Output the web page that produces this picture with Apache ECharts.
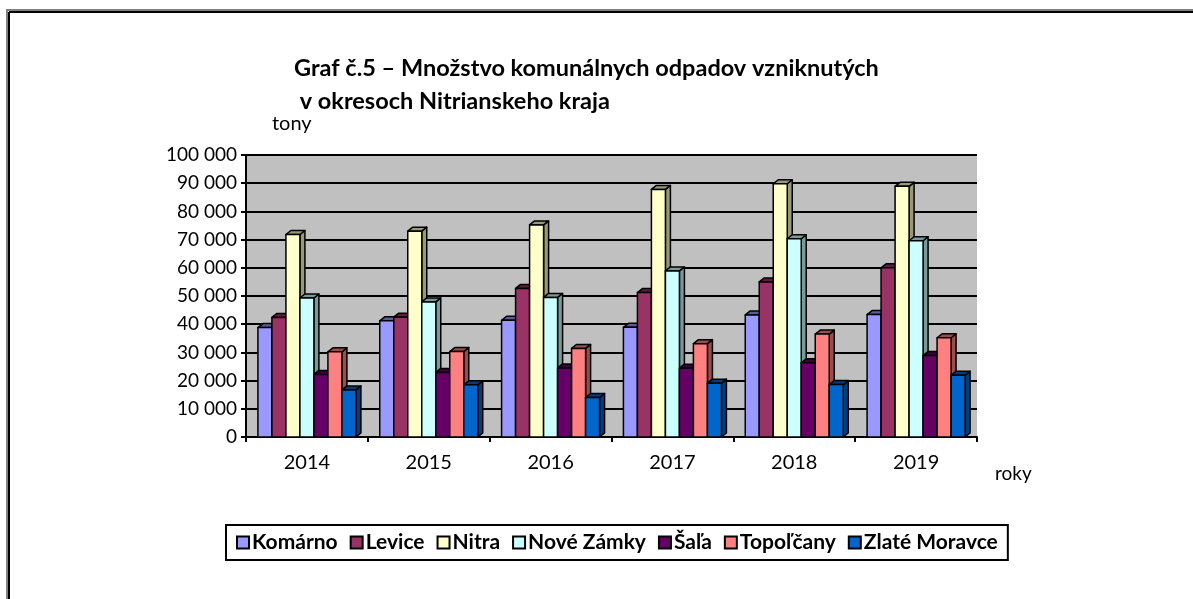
<!DOCTYPE html>
<html>
<head>
<meta charset="utf-8">
<script src="https://cdn.jsdelivr.net/npm/echarts@6/dist/echarts.min.js"></script>
<style>
  html, body { margin: 0; padding: 0; background: #fff; }
  #chart { width: 1193px; height: 599px; }
</style>
</head>
<body>
<div id="chart"></div>
<script>
// roky
const years = ['2014', '2015', '2016', '2017', '2018', '2019']

// tony komunálnych odpadov podľa okresov
const komarno = [38800, 41200, 41400, 38900, 43300, 43400]
const levice = [42400, 42500, 52700, 51200, 55000, 60000]
const nitra = [71800, 73000, 75200, 87800, 89800, 88900]
const noveZamky = [49300, 47900, 49500, 58900, 70300, 69600]
const sala = [22200, 22900, 24500, 24400, 26300, 28900]
const topolcany = [30200, 30300, 31400, 33100, 36500, 35200]
const zlateMoravce = [16700, 18500, 14000, 19100, 18600, 21900]

const yTicks = [0, 10000, 20000, 30000, 40000, 50000, 60000, 70000, 80000, 90000, 100000]

const regions = [
  {name: 'Komárno', data: komarno, color: '#9999ff', side: '#5c5c99'},
  {name: 'Levice', data: levice, color: '#993366', side: '#5c1f3d'},
  {name: 'Nitra', data: nitra, color: '#ffffcc', side: '#99997a'},
  {name: 'Nové Zámky', data: noveZamky, color: '#ccffff', side: '#7a9999'},
  {name: 'Šaľa', data: sala, color: '#660066', side: '#3d003d'},
  {name: 'Topoľčany', data: topolcany, color: '#ff8080', side: '#994d4d'},
  {name: 'Zlaté Moravce', data: zlateMoravce, color: '#0066cc', side: '#003d7a'}
]

const fmt = (v) => String(v).replace(/\B(?=(\d{3})+(?!\d))/g, ' ')

const BW = 14   // šírka stĺpca
const DX = 5    // hĺbka 3D
const DY = -4

const makeRender = (idx, color, side) => (params, api) => {
  const cat = api.value(0)
  const base = api.coord([cat, 0])
  const top = api.coord([cat, api.value(1)])
  const total = regions.length * BW
  const x = base[0] - total / 2 + idx * BW
  const yt = top[1]
  const yb = base[1]
  const stroke = {stroke: '#000', lineWidth: 1.5, lineJoin: 'round'}
  return {
    type: 'group',
    children: [
      {
        type: 'polygon',
        shape: {points: [[x + BW, yt], [x + BW + DX, yt + DY], [x + BW + DX, yb + DY], [x + BW, yb]]},
        style: Object.assign({fill: side}, stroke)
      },
      {
        type: 'polygon',
        shape: {points: [[x, yt], [x + DX, yt + DY], [x + BW + DX, yt + DY], [x + BW, yt]]},
        style: Object.assign({fill: side}, stroke)
      },
      {
        type: 'rect',
        shape: {x: x, y: yt, width: BW, height: yb - yt},
        style: Object.assign({fill: color}, stroke)
      }
    ]
  }
}

const chart = echarts.init(document.getElementById('chart'))

const option = {
  animation: false,
  textStyle: {fontFamily: 'Lato'},
  title: {
    text: 'Graf č.5 – Množstvo komunálnych odpadov vzniknutých\n v okresoch Nitrianskeho kraja',
    left: 289,
    top: 47,
    textStyle: {fontSize: 23.5, fontWeight: 'bold', color: '#000', lineHeight: 33, fontFamily: 'Lato'}
  },
  graphic: [
    {type: 'line', shape: {x1: 6, y1: 10, x2: 1193, y2: 10}, style: {stroke: '#808080', lineWidth: 2}},
    {type: 'line', shape: {x1: 9, y1: 12, x2: 1193, y2: 12}, style: {stroke: '#000', lineWidth: 2}},
    {type: 'line', shape: {x1: 7, y1: 10, x2: 7, y2: 599}, style: {stroke: '#808080', lineWidth: 2}},
    {type: 'line', shape: {x1: 9, y1: 12, x2: 9, y2: 599}, style: {stroke: '#000', lineWidth: 2}},
    {type: 'text', left: 272, top: 114, style: {text: 'tony', fontSize: 20, fontFamily: 'Lato', fill: '#000'}},
    {type: 'text', left: 995, top: 464, style: {text: 'roky', fontSize: 19, fontFamily: 'Lato', fill: '#000'}}
  ],
  legend: {
    data: regions.map(r => r.name),
    left: 226,
    top: 525,
    padding: [7, 10],
    itemGap: 12,
    itemWidth: 12,
    itemHeight: 12,
    icon: 'rect',
    borderColor: '#000',
    borderWidth: 2,
    textStyle: {fontSize: 21, fontWeight: 'bold', color: '#000', padding: [0, 0, 0, -2]}
  },
  grid: {
    left: 246,
    right: 216,
    top: 155,
    bottom: 162,
    show: true,
    backgroundColor: '#c0c0c0',
    borderWidth: 0
  },
  xAxis: {
    type: 'category',
    data: years,
    axisLine: {lineStyle: {color: '#000', width: 2}},
    axisTick: {show: true, inside: false, length: 5, lineStyle: {color: '#000', width: 2}},
    axisLabel: {fontSize: 20, color: '#000', margin: 16}
  },
  yAxis: {
    type: 'value',
    min: yTicks[0],
    max: yTicks[yTicks.length - 1],
    interval: yTicks[1] - yTicks[0],
    axisLine: {show: true, lineStyle: {color: '#000', width: 2}},
    axisTick: {show: true, length: 5, lineStyle: {color: '#000', width: 2}},
    axisLabel: {fontSize: 19, color: '#000', margin: 9, formatter: fmt},
    splitLine: {lineStyle: {color: '#000', width: 2}}
  },
  series: regions.map((r, i) => ({
    name: r.name,
    type: 'custom',
    itemStyle: {color: r.color, borderColor: '#000', borderWidth: 1.5},
    renderItem: makeRender(i, r.color, r.side),
    data: r.data.map((v, k) => [k, v])
  }))
}

chart.setOption(option)
window.addEventListener('resize', () => chart.resize())
</script>
</body>
</html>
